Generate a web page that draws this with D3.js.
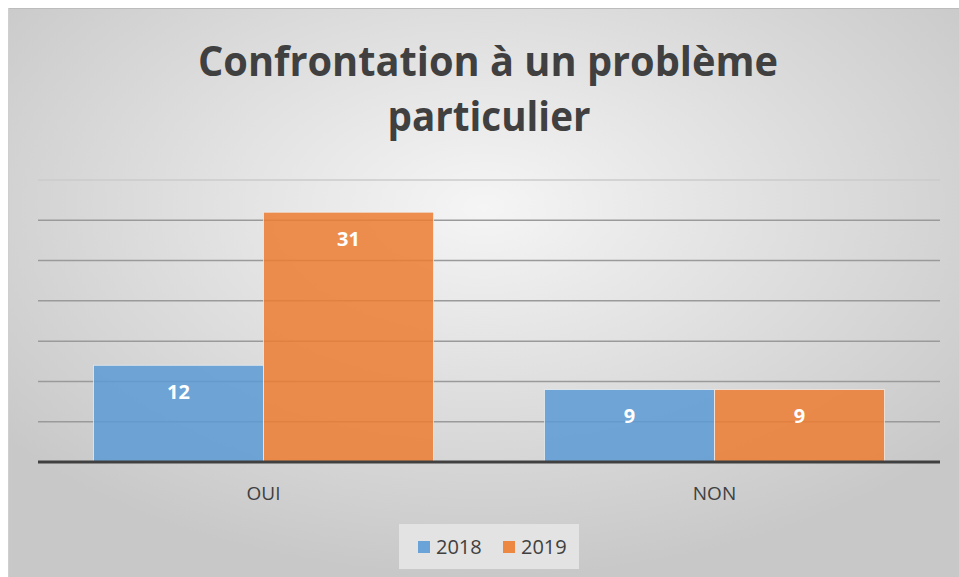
<!DOCTYPE html>
<html>
<head>
<meta charset="utf-8">
<script src="https://cdn.jsdelivr.net/npm/d3@7"></script>
<style>
  body { margin: 0; background: #fff; }
  svg { display: block; }
</style>
</head>
<body>
<div id="viz"></div>
<script>
var width = 959;
var height = 577;

// data
var categories = ["OUI", "NON"];
var seriesNames = ["2018", "2019"];
var values2018 = [12, 9];
var values2019 = [31, 9];
var yTicks = [0, 5, 10, 15, 20, 25, 30, 35];
var colors = ["#5b9bd5", "#ed7d31"];

var margin = { left: 38, right: 19, top: 180, bottom: 115 };

var svg = d3.select("#viz").append("svg")
   .attr("width", width)
   .attr("height", height);

var defs = svg.append("defs");
var grad = defs.append("radialGradient")
   .attr("id", "bg")
   .attr("cx", "50%").attr("cy", "35%").attr("r", "65%");
grad.append("stop").attr("offset", "0%").attr("stop-color", "#f5f5f5");
grad.append("stop").attr("offset", "100%").attr("stop-color", "#c8c8c8");

// chart background
svg.append("rect")
   .attr("x", 8).attr("y", 8)
   .attr("width", width - 8).attr("height", height - 8)
   .attr("fill", "url(#bg)");
svg.append("line")
   .attr("x1", 8).attr("x2", width)
   .attr("y1", 8.5).attr("y2", 8.5)
   .attr("stroke", "#bcbcbc").attr("stroke-width", 1);
svg.append("line")
   .attr("x1", 8.5).attr("x2", 8.5)
   .attr("y1", 8).attr("y2", height)
   .attr("stroke", "#cfcfcf").attr("stroke-width", 1);

// title
var title = svg.append("text")
   .attr("text-anchor", "middle")
   .attr("font-family", "'Open Sans', sans-serif")
   .attr("font-weight", "bold")
   .attr("font-size", 42)
   .attr("fill", "#404040");
title.append("tspan").attr("x", 488).attr("y", 76)
   .attr("textLength", 580).attr("lengthAdjust", "spacingAndGlyphs")
   .text("Confrontation à un problème");
title.append("tspan").attr("x", 489).attr("y", 131)
   .attr("textLength", 203).attr("lengthAdjust", "spacingAndGlyphs")
   .text("particulier");

var x0 = d3.scaleBand()
   .domain(categories)
   .range([margin.left, width - margin.right]);

var x1 = d3.scaleBand()
   .domain(seriesNames)
   .range([0, 340]);

var y = d3.scaleLinear()
   .domain([0, 35])
   .range([height - margin.bottom, margin.top]);

// gridlines
svg.append("g")
   .selectAll("line")
   .data(yTicks.slice(1))
   .enter().append("line")
   .attr("x1", margin.left)
   .attr("x2", width - margin.right)
   .attr("y1", function(d) { return y(d); })
   .attr("y2", function(d) { return y(d); })
   .attr("stroke", function(d) { return d == 35 ? "#cbcbcb" : "#9a9a9a"; })
   .attr("stroke-width", 1.5);

// bars
var series = [values2018, values2019];
var groups = svg.append("g")
   .selectAll("g")
   .data(categories)
   .enter().append("g")
   .attr("transform", function(d) {
      return "translate(" + (x0(d) + (x0.bandwidth() - 340) / 2) + ",0)";
   });

groups.selectAll("rect")
   .data(function(d, i) {
      return seriesNames.map(function(s, j) { return { s: s, v: series[j][i], j: j }; });
   })
   .enter().append("rect")
   .attr("x", function(d) { return x1(d.s); })
   .attr("width", x1.bandwidth())
   .attr("y", function(d) { return y(d.v); })
   .attr("height", function(d) { return y(0) - y(d.v); })
   .attr("fill", function(d) { return colors[d.j]; })
   .attr("fill-opacity", 0.85)
   .attr("stroke", "#f2f2f2")
   .attr("stroke-opacity", 0.7)
   .attr("stroke-width", 1);

groups.selectAll("text")
   .data(function(d, i) {
      return seriesNames.map(function(s, j) { return { s: s, v: series[j][i], j: j }; });
   })
   .enter().append("text")
   .attr("x", function(d) { return x1(d.s) + x1.bandwidth() / 2; })
   .attr("y", function(d) { return y(d.v) + 34; })
   .attr("text-anchor", "middle")
   .attr("font-family", "'Open Sans', sans-serif")
   .attr("font-weight", "bold")
   .attr("font-size", 20)
   .attr("fill", "#ffffff")
   .text(function(d) { return d.v; });

// baseline
svg.append("line")
   .attr("x1", margin.left)
   .attr("x2", width - margin.right)
   .attr("y1", y(0))
   .attr("y2", y(0))
   .attr("stroke", "#404040")
   .attr("stroke-width", 3);

// x axis labels
var xAxis = svg.append("g")
   .attr("transform", "translate(0," + y(0) + ")")
   .call(d3.axisBottom(x0).tickSize(0).tickPadding(0));
xAxis.select(".domain").remove();
xAxis.selectAll("text")
   .attr("dy", null)
   .attr("y", 38)
   .attr("font-family", "'Open Sans', sans-serif")
   .attr("font-size", 19)
   .attr("fill", "#404040");

// legend
var legend = svg.append("g");
legend.append("rect")
   .attr("x", 399).attr("y", 524)
   .attr("width", 180).attr("height", 45)
   .attr("fill", "#e3e3e3");
seriesNames.forEach(function(s, j) {
   var lx = 418 + j * 85;
   legend.append("rect")
      .attr("x", lx).attr("y", 541)
      .attr("width", 12).attr("height", 12)
      .attr("fill", colors[j])
      .attr("fill-opacity", 0.9);
   legend.append("text")
      .attr("x", lx + 18).attr("y", 554)
      .attr("font-family", "'Open Sans', sans-serif")
      .attr("font-size", 20)
      .attr("fill", "#404040")
      .text(s);
});
</script>
</body>
</html>
